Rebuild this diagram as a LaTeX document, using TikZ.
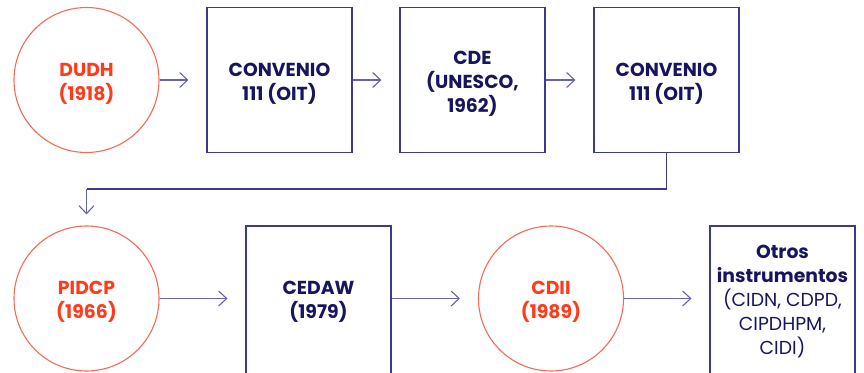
\documentclass[tikz,border=0pt]{standalone}
\usepackage{fontspec}
\setmainfont{Poppins}
\usetikzlibrary{arrows.meta}
\definecolor{navy}{HTML}{17155F}
\definecolor{boxline}{HTML}{3B3990}
\definecolor{arrowline}{HTML}{6664A8}
\definecolor{redline}{HTML}{F56B55}
\definecolor{redtext}{HTML}{FF3B1C}
\tikzset{
  x=1pt, y=-1pt,
  base/.style={align=center, inner sep=0pt, font=\fontsize{18.8}{24}\selectfont\bfseries},
  % caption placed slightly below the shape centre
  caption/.style={base, yshift=-3.5pt},
  circ/.style={circle, draw=redline, line width=1.1pt, minimum size=145pt, inner sep=0pt},
  sqbox/.style={rectangle, draw=boxline, line width=1.1pt, minimum width=145pt, minimum height=145pt, inner sep=0pt},
  tallbox/.style={base, sqbox, minimum height=152pt, text=navy},
  arr/.style={draw=arrowline, line width=1.1pt, -{Straight Barb[length=8pt,width=15pt]}, shorten >=18pt},
  link/.style={draw=boxline, line width=1.1pt}
}
\begin{document}
\begin{tikzpicture}
\useasboundingbox (0,0) rectangle (864,372);
% first row
\node[circ]  (dudh)  at (86.5,80)  {};
\node[sqbox] (conv1) at (279.5,80) {};
\node[sqbox] (cde)   at (472.5,80) {};
\node[sqbox] (conv2) at (666.5,80) {};
\node[caption, text=redtext] (dudh-t)  at (dudh)  {DUDH\\(1918)};
\node[caption, text=navy]    (conv1-t) at (conv1) {CONVENIO\\111 (OIT)};
\node[caption, text=navy]    (cde-t)   at (cde)   {CDE\\(UNESCO,\\1962)};
\node[caption, text=navy]    (conv2-t) at (conv2) {CONVENIO\\111 (OIT)};
% second row
\node[circ]    (pidcp) at (86.5,298.5) {};
\node[tallbox] (cedaw) at (318.5,302)  {CEDAW\\(1979)};
\node[circ]    (cdii)  at (551,298.5)  {};
\node[tallbox] (otros) at (782.5,302)
  {Otros\\instrumentos\\{\mdseries(CIDN, CDPD,}\\{\mdseries CIPDHPM,}\\{\mdseries CIDI)}};
\node[caption, text=redtext] (pidcp-t) at (pidcp) {PIDCP\\(1966)};
\node[caption, text=redtext] (cdii-t)  at (cdii)  {CDII\\(1989)};
% connectors
\draw[arr] (dudh) -- (conv1);
\draw[arr] (conv1) -- (cde);
\draw[arr] (cde) -- (conv2);
\coordinate (bend) at (86.5,189);
\draw[link] (conv2.south) |- (bend);
\draw[arr, shorten >=11pt] (bend) -- (pidcp.north);
\draw[arr] (pidcp.east) -- (pidcp.east -| cedaw.west);
\draw[arr] (cedaw.east |- pidcp.east) -- (cdii.west);
\draw[arr] (cdii.east) -- (cdii.east -| otros.west);
\end{tikzpicture}
\end{document}
